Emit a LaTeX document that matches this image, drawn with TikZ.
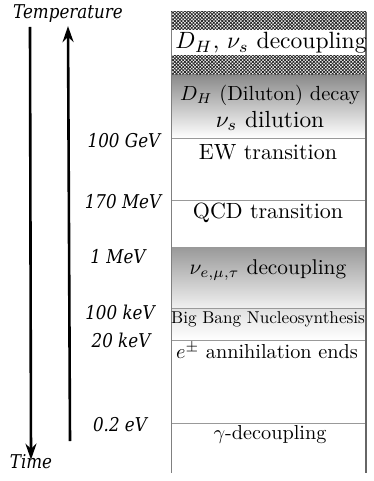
\documentclass[tikz,border=0pt]{standalone}
\usepackage{fontspec}
\newfontfamily\energyfont[FakeStretch=0.88]{DejaVu Serif}
\usetikzlibrary{arrows.meta,patterns.meta}

\begin{document}
\begin{tikzpicture}[x=1pt, y=-1pt, >={Stealth[length=16pt,width=11pt]},
    epoch/.style={scale=2.2, inner sep=0pt},
    energy/.style={font=\energyfont\itshape\fontsize{19}{22}\selectfont, inner sep=0pt},
    sep/.style={draw=black!40, line width=0.7pt}]
  \useasboundingbox (0,0) rectangle (374,481);
  % bands of the column
  \fill[pattern={Hatch[angle=45,distance=2.4pt,line width=0.8pt]}, pattern color=black!85]
    (171,12) rectangle (366,30);
  \fill[pattern={Hatch[angle=45,distance=2.4pt,line width=0.8pt]}, pattern color=black!85]
    (171,56) rectangle (366,76);
  \shade[top color=black!45, bottom color=white] (171,76) rectangle (366,138);
  \shade[top color=black!40, bottom color=black!6] (171,247) rectangle (366,308);
  \shade[top color=black!12, bottom color=white] (171,308) rectangle (366,340);
  \draw[sep] (171,138) -- (366,138);
  \draw[sep] (171,200) -- (366,200);
  \draw[sep] (171,308) -- (366,308);
  \draw[sep] (171,340) -- (366,340);
  \draw[sep] (171,423) -- (366,423);
  \draw[draw=black!50, line width=0.6pt] (171,12) -- (171,473);
  \draw[draw=black!60, line width=2pt] (366,12) -- (366,473);

  % epochs
  \node[epoch, scale=1.07] (dhdec) at (271,43) {$D_H$, $\nu_s$ decoupling};
  \node[epoch, scale=0.93] (dilu) at (270,95) {$D_H$ (Diluton) decay};
  \node[epoch, scale=1.06] (nusd) at (270,121) {$\nu_s$ dilution};
  \node[epoch] (ew) at (268,152) {EW transition};
  \node[epoch] (qcd) at (268,213) {QCD transition};
  \node[epoch, scale=0.97] (nudec) at (268,270) {$\nu_{e,\mu,\tau}$ decoupling};
  \node[epoch, scale=0.78] (bbn) at (268,319) {Big Bang Nucleosynthesis};
  \node[epoch, scale=0.92] (epm) at (267,351) {$e^{\pm}$ annihilation ends};
  \node[epoch, scale=0.92] (gam) at (270,435) {$\gamma$-decoupling};

  % energies
  \node[energy] (e1) at (124,141) {100 GeV};
  \node[energy] (e2) at (123,202) {170 MeV};
  \node[energy] (e3) at (118,257) {1 MeV};
  \node[energy] (e4) at (120,312) {100 keV};
  \node[energy] (e5) at (121,340) {20 keV};
  \node[energy] (e6) at (120,425) {0.2 eV};

  % axes
  \node[energy] (temp) at (68,14) {Temperature};
  \node[energy] (time) at (31,462) {Time};
  \coordinate (tbot) at (70,441);
  \coordinate (ttop) at (30,27);
  \draw[->, line width=2.6pt] (tbot) -- ([yshift=-3pt]temp.south);
  \draw[->, line width=2.6pt] (ttop) -- ([yshift=-5pt]time.north);
\end{tikzpicture}
\end{document}
